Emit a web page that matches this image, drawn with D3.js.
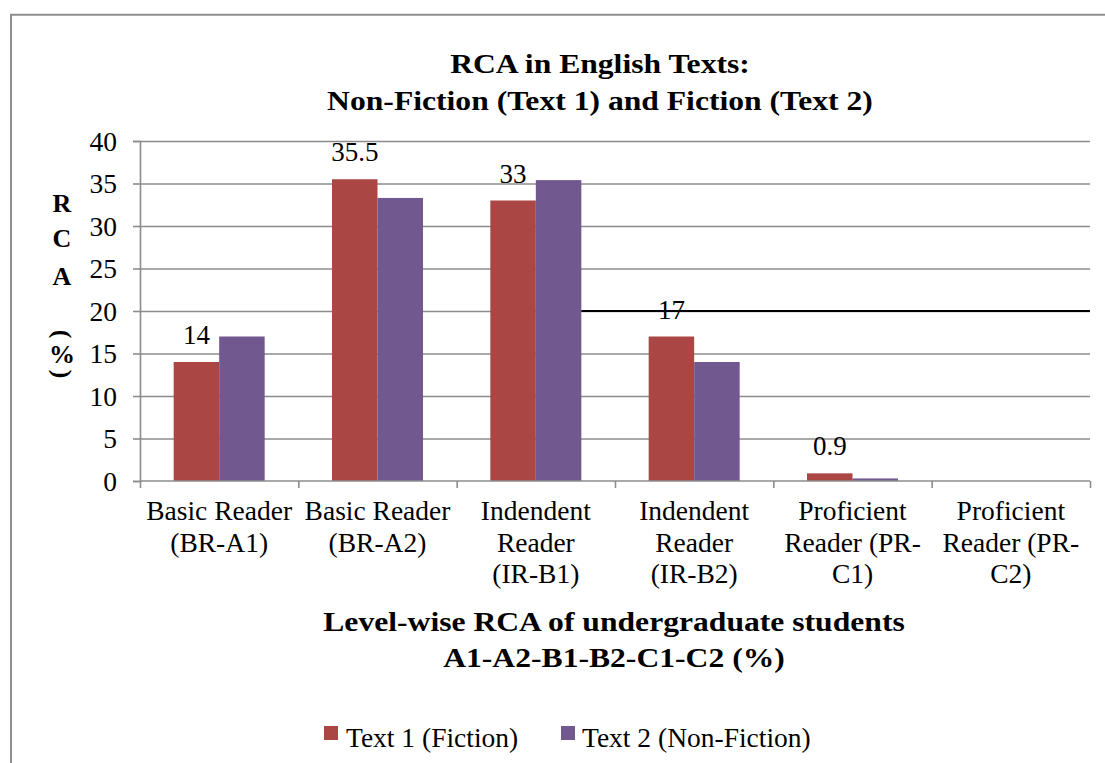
<!DOCTYPE html>
<html>
<head>
<meta charset="utf-8">
<script src="https://cdn.jsdelivr.net/npm/d3@7/dist/d3.min.js"></script>
<style>
  html, body { margin: 0; padding: 0; background: #fff; }
  svg { display: block; }
  text { font-family: "Liberation Serif", "Times New Roman", serif; fill: #000; }
</style>
</head>
<body>
<svg id="chart" width="1105" height="763"></svg>
<script>
// ---- data ----
const categories = ["BR-A1", "BR-A2", "IR-B1", "IR-B2", "PR-C1", "PR-C2"];
const categoryLabels = [
  ["Basic Reader", "(BR-A1)"],
  ["Basic Reader", "(BR-A2)"],
  ["Indendent", "Reader", "(IR-B1)"],
  ["Indendent", "Reader", "(IR-B2)"],
  ["Proficient", "Reader (PR-", "C1)"],
  ["Proficient", "Reader (PR-", "C2)"]
];
const seriesNames = ["Text 1 (Fiction)", "Text 2 (Non-Fiction)"];
const text1Values = [14, 35.5, 33, 17, 0.9, 0];
const text2Values = [17, 33.3, 35.4, 14, 0.3, 0];
const text1Labels = ["14", "35.5", "33", "17", "0.9", ""];
const yTicks = [0, 5, 10, 15, 20, 25, 30, 35, 40];
const refLineValue = 20;          // stray black line in the original
const refLineStartCategory = "IR-B1";
const titleLines = ["RCA in English Texts:", "Non-Fiction (Text 1) and Fiction (Text 2)"];
const xTitleLines = ["Level-wise RCA of undergraduate students", "A1-A2-B1-B2-C1-C2 (%)"];
const yTitleLetters = ["R", "C", "A"];

// ---- layout ----
const colors = ["#AA4643", "#71588F"];
const gridColor = "#8c8c8c";
const plotLeft = 140, plotRight = 1090, plotTop = 141, plotBottom = 481;
const fs = 27.5;

const svg = d3.select("#chart");

// outer frame
svg.append("path")
  .attr("d", "M11,763 L11,14.8 L1105,14.8")
  .attr("fill", "none").attr("stroke", "#8f8f8f").attr("stroke-width", 2);

const y = d3.scaleLinear().domain([0, 40]).range([plotBottom, plotTop]);
const x = d3.scaleBand().domain(categories).range([plotLeft, plotRight]).paddingInner(0).paddingOuter(0);
const xSub = d3.scaleBand().domain(seriesNames).range([0, x.bandwidth()]).paddingInner(0).paddingOuter(0.74);
const xBound = d3.scaleLinear().domain([0, categories.length]).range([plotLeft, plotRight]);

// gridlines
const grid = svg.append("g").attr("transform", `translate(${plotLeft},0)`)
  .call(d3.axisLeft(y).tickValues(yTicks.filter(v => v > 0)).tickSize(-(plotRight - plotLeft)).tickFormat(""));
grid.select(".domain").remove();
grid.selectAll("line").attr("stroke", gridColor).attr("stroke-width", 1.6);

// bars
const seriesData = [text1Values, text2Values];
seriesData.forEach((vals, si) => {
  svg.append("g").selectAll("rect")
    .data(vals.map((v, i) => ({ cat: categories[i], v })))
    .join("rect")
    .attr("x", d => x(d.cat) + xSub(seriesNames[si]))
    .attr("width", xSub.bandwidth())
    .attr("y", d => y(d.v))
    .attr("height", d => y(0) - y(d.v))
    .attr("fill", colors[si]);
});

// stray black line at 20
svg.append("line")
  .attr("x1", x(refLineStartCategory) + xSub(seriesNames[1]) + xSub.bandwidth())
  .attr("x2", plotRight)
  .attr("y1", y(refLineValue)).attr("y2", y(refLineValue))
  .attr("stroke", "#000").attr("stroke-width", 2);

// y axis
const yAxis = svg.append("g").attr("transform", `translate(${plotLeft},0)`)
  .call(d3.axisLeft(y).tickValues(yTicks).tickSize(7).tickPadding(16));
yAxis.select(".domain").attr("stroke", gridColor).attr("stroke-width", 1.6);
yAxis.selectAll("line").attr("stroke", gridColor).attr("stroke-width", 1.6);
yAxis.selectAll("text").attr("font-size", fs).attr("font-family", "Liberation Serif, Times New Roman, serif")
  .attr("fill", "#000").attr("dy", "0.33em");

// x axis
const xAxis = svg.append("g").attr("transform", `translate(0,${plotBottom})`)
  .call(d3.axisBottom(xBound).tickValues(d3.range(categories.length + 1)).tickSize(7).tickFormat(""));
xAxis.select(".domain").attr("stroke", gridColor).attr("stroke-width", 1.6).attr("d", `M${plotLeft},0H${plotRight}`);
xAxis.selectAll("line").attr("stroke", gridColor).attr("stroke-width", 1.6);

// category labels
const catG = svg.append("g");
categoryLabels.forEach((lines, i) => {
  const cx = x(categories[i]) + x.bandwidth() / 2;
  lines.forEach((ln, j) => {
    catG.append("text").attr("x", cx).attr("y", 520 + j * 31.5)
      .attr("text-anchor", "middle").attr("font-size", fs).text(ln);
  });
});

// data labels (series 1)
svg.append("g").selectAll("text")
  .data(text1Values.map((v, i) => ({ cat: categories[i], v, label: text1Labels[i] })).filter(d => d.label))
  .join("text")
  .attr("x", d => x(d.cat) + xSub(seriesNames[0]) + xSub.bandwidth() / 2)
  .attr("y", d => y(d.v) - 18)
  .attr("text-anchor", "middle").attr("font-size", 27)
  .text(d => d.label);

// bold stretched text helper
function boldText(tx, ty, str, size, sx) {
  svg.append("g").attr("transform", `translate(${tx},${ty}) scale(${sx},1)`)
    .append("text").attr("text-anchor", "middle").attr("font-weight", "bold")
    .attr("font-size", size).text(str);
}

// title
titleLines.forEach((t, i) => boldText(600, 72.7 + i * 37.3, t, 28, 1.13));
// x axis title
xTitleLines.forEach((t, i) => boldText(614, 631 + i * 36, t, 28, 1.13));

// y axis title (stacked letters)
yTitleLetters.forEach((l, i) => {
  svg.append("text").attr("x", 62).attr("y", [212, 247, 285][i])
    .attr("text-anchor", "middle").attr("font-weight", "bold").attr("font-size", 26).text(l);
});
svg.append("text").attr("x", 62).attr("y", 363)
  .attr("text-anchor", "middle").attr("font-weight", "bold").attr("font-size", 26).text("%");
[["(", 334], [")", 374]].forEach(([ch, cy]) => {
  svg.append("text").attr("transform", `translate(62,${cy}) rotate(90)`)
    .attr("text-anchor", "middle").attr("dominant-baseline", "central")
    .attr("font-weight", "bold").attr("font-size", 26).text(ch);
});

// legend
const legendItems = [
  { name: seriesNames[0], sx: 324, tx: 346 },
  { name: seriesNames[1], sx: 561, tx: 582 }
];
legendItems.forEach((d, i) => {
  svg.append("rect").attr("x", d.sx).attr("y", 726).attr("width", 14).attr("height", 14).attr("fill", colors[i]);
  svg.append("text").attr("x", d.tx).attr("y", 747).attr("font-size", fs).text(d.name);
});
</script>
</body>
</html>
